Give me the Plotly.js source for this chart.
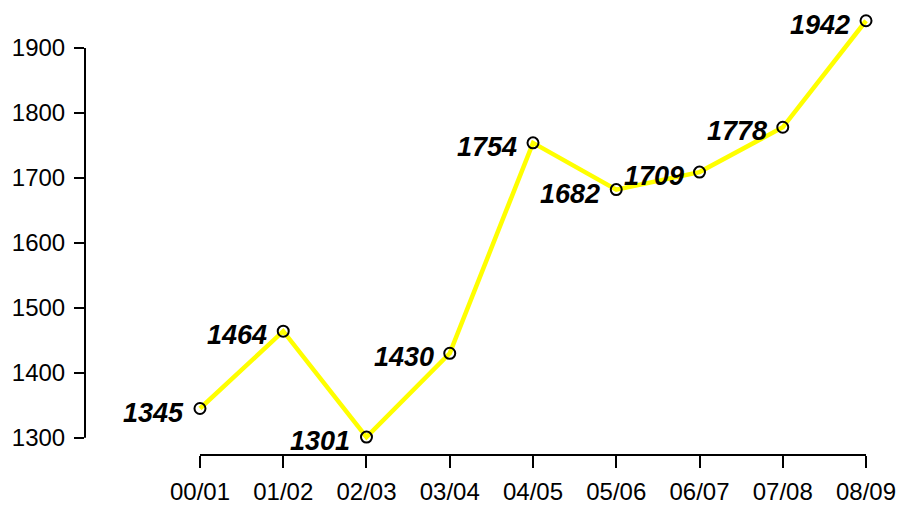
<!DOCTYPE html>
<html>
<head>
<meta charset="utf-8">
<script src="https://cdn.plot.ly/plotly-3.0.1.min.js"></script>
<style>html,body{margin:0;padding:0;background:#fff;}#chart{width:899px;height:507px;}</style>
</head>
<body>
<div id="chart"></div>
<script>
const categories = ["00/01","01/02","02/03","03/04","04/05","05/06","06/07","07/08","08/09"];
const values = [1345, 1464, 1301, 1430, 1754, 1682, 1709, 1778, 1942];
const yTicks = [1300, 1400, 1500, 1600, 1700, 1800, 1900];

const idx = categories.map((c, i) => i);
const FONT = "Liberation Sans, Arial, Helvetica, sans-serif";

const trace = {
  x: idx,
  y: values,
  type: "scatter",
  mode: "lines+markers",
  line: {color: "#FFFF00", width: 4.5},
  marker: {symbol: "circle-open", size: 11, color: "#000", line: {width: 2, color: "#000"}},
  hoverinfo: "skip",
  showlegend: false
};

const annotations = values.map((v, i) => ({
  x: i, y: v, xref: "x", yref: "y",
  text: String(v), showarrow: false,
  xanchor: "right", yanchor: "middle",
  xshift: -14, yshift: -4,
  font: {family: FONT, size: 27, color: "#000", weight: "bold", style: "italic"}
}));

const shapes = [
  {type: "line", xref: "paper", yref: "y", x0: 0, x1: 0, y0: yTicks[0], y1: yTicks[yTicks.length-1], line: {color: "#000", width: 2}},
  {type: "line", xref: "x", yref: "paper", x0: idx[0], x1: idx[idx.length-1], y0: 0, y1: 0, line: {color: "#000", width: 2}}
];

const layout = {
  width: 899, height: 507,
  margin: {l: 85, r: 10, t: 9, b: 52},
  paper_bgcolor: "#fff", plot_bgcolor: "#fff",
  font: {family: FONT, color: "#000"},
  xaxis: {
    range: [-1.381, 8.276],
    tickvals: idx, ticktext: categories,
    showgrid: false, zeroline: false, showline: false,
    ticks: "outside", ticklen: 12, tickwidth: 2, tickcolor: "#000",
    ticklabelstandoff: 3,
    tickfont: {family: FONT, size: 24, color: "#000"}
  },
  yaxis: {
    range: [1273.4, 1960.1],
    tickvals: yTicks,
    showgrid: false, zeroline: false, showline: false,
    ticks: "outside", ticklen: 10, tickwidth: 2, tickcolor: "#000",
    ticklabelstandoff: 4,
    tickfont: {family: FONT, size: 24, color: "#000"}
  },
  shapes: shapes,
  annotations: annotations
};

Plotly.newPlot("chart", [trace], layout, {staticPlot: true, displayModeBar: false});
</script>
</body>
</html>
